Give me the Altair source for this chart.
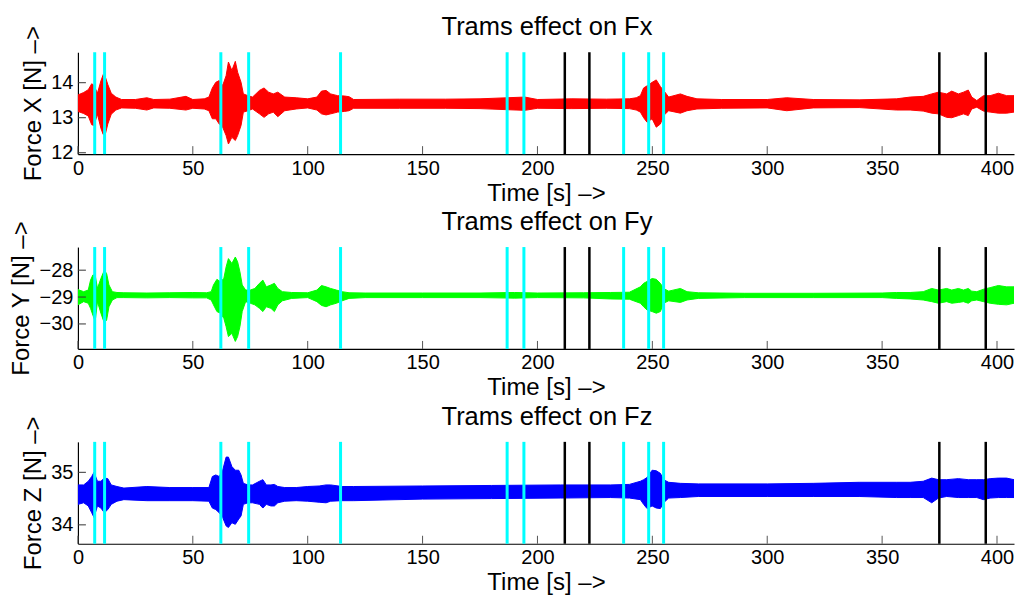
import altair as alt
import pandas as pd

# ---------------- data ----------------
# Fx envelope (time [s], upper, lower)
fx_t = [0.0, 2.5, 4.5, 6.0, 7.0, 8.5, 10.0, 11.0, 12.0, 13.0, 14.5, 16.5, 19.0, 25, 30, 33, 40, 47, 50, 55, 57,
        58.5, 60, 61.5, 63, 64.5, 65.5, 67, 68.5, 69.5, 71, 72, 74, 76, 79, 81, 83, 85, 87, 90, 95, 100, 104,
        106, 108, 110, 113, 116, 118, 120, 140, 160, 175, 194.5, 200, 215, 230, 240, 243, 244.8, 246.2, 247.7,
        249.9, 251.7, 253.5, 254.9, 257.1, 262.2, 265.1, 269.4, 280, 300, 308.5, 320, 340, 356.3, 362.2, 367.9,
        371.6, 374.5, 378.1, 380.3, 383.2, 385.4, 387.5, 389, 391.2, 394.1, 397, 400.6, 404.2, 407.4]
fx_hi = [13.65, 13.72, 13.80, 13.97, 13.92, 13.70, 14.05, 14.23, 14.15, 13.95, 13.70, 13.59, 13.52, 13.52, 13.57,
         13.52, 13.53, 13.61, 13.52, 13.54, 13.59, 13.85, 14.01, 14.06, 13.92, 14.20, 14.59, 14.35, 14.61, 14.30,
         14.01, 13.68, 13.63, 13.59, 13.78, 13.85, 13.73, 13.68, 13.73, 13.59, 13.57, 13.54, 13.59, 13.76, 13.78,
         13.68, 13.63, 13.62, 13.60, 13.52, 13.53, 13.53, 13.54, 13.59, 13.52, 13.54, 13.53, 13.54, 13.57, 13.63,
         13.85, 13.91, 14.01, 14.08, 13.89, 13.78, 13.59, 13.68, 13.61, 13.54, 13.52, 13.52, 13.57, 13.52, 13.51,
         13.54, 13.59, 13.61, 13.68, 13.73, 13.68, 13.76, 13.68, 13.73, 13.79, 13.59, 13.49, 13.63, 13.63, 13.70,
         13.63, 13.63]
fx_lo = [13.18, 13.12, 13.05, 12.80, 12.78, 13.10, 12.70, 12.52, 12.55, 12.82, 13.10, 13.22, 13.28, 13.27, 13.22,
         13.28, 13.27, 13.22, 13.27, 13.25, 13.20, 12.97, 12.97, 12.82, 12.73, 12.49, 12.25, 12.44, 12.35, 12.49,
         12.78, 13.16, 13.20, 13.25, 13.11, 13.01, 13.11, 13.16, 13.03, 13.20, 13.25, 13.28, 13.22, 13.11, 13.08,
         13.11, 13.16, 13.18, 13.20, 13.27, 13.27, 13.27, 13.26, 13.21, 13.27, 13.26, 13.27, 13.26, 13.22, 13.16,
         13.00, 12.87, 12.97, 12.73, 12.82, 13.06, 13.20, 13.13, 13.20, 13.25, 13.27, 13.28, 13.20, 13.28, 13.29,
         13.22, 13.22, 13.19, 13.13, 13.11, 13.01, 13.00, 13.06, 13.11, 13.06, 13.25, 13.30, 13.19, 13.16, 13.13,
         13.13, 13.16]

# Fy envelope
fy_t = [0, 2.5, 4.5, 5.5, 6.5, 7.5, 8.5, 10.0, 11.5, 12.5, 13.5, 15, 17, 20, 30, 40, 50, 56, 58, 59, 60.5, 62,
        63.5, 64.5, 65.5, 67, 68.5, 69.5, 70.5, 71.5, 73, 75, 77, 79, 80.5, 82, 84, 85.5, 87, 89, 93, 100, 104,
        106, 108, 110, 112.5, 115, 118, 125, 150, 175, 190, 200, 220, 231.7, 240, 244.8, 246.2, 247.7, 249.9,
        251.7, 253.5, 254.9, 257.1, 262.2, 265.1, 270, 290, 320, 350, 356.3, 362.2, 367.9, 371.6, 374.5, 378.1,
        380.3, 383.2, 385.4, 387.5, 389, 391.2, 394.1, 397, 400.6, 404.2, 407.4]
fy_hi = [-28.72, -28.80, -28.74, -28.37, -28.18, -28.18, -28.68, -28.31, -28.00, -28.13, -28.55, -28.80, -28.83,
         -28.84, -28.85, -28.84, -28.83, -28.84, -28.80, -28.55, -28.34, -28.43, -28.31, -27.88, -27.57, -27.75,
         -27.51, -27.69, -28.06, -28.55, -28.74, -28.74, -28.68, -28.49, -28.37, -28.62, -28.55, -28.49, -28.68,
         -28.80, -28.83, -28.84, -28.74, -28.57, -28.62, -28.68, -28.74, -28.80, -28.84, -28.85, -28.85, -28.85,
         -28.83, -28.85, -28.84, -28.83, -28.82, -28.62, -28.49, -28.42, -28.31, -28.34, -28.49, -28.68, -28.78,
         -28.68, -28.80, -28.84, -28.86, -28.86, -28.85, -28.83, -28.83, -28.80, -28.68, -28.74, -28.68, -28.74,
         -28.68, -28.74, -28.68, -28.78, -28.80, -28.71, -28.65, -28.57, -28.62, -28.62]
fy_lo = [-29.29, -29.17, -29.23, -29.42, -29.67, -29.91, -29.17, -29.60, -29.97, -29.85, -29.36, -29.11, -29.02,
         -29.02, -29.03, -29.02, -29.03, -29.03, -29.11, -29.29, -29.54, -29.60, -29.79, -30.10, -30.47, -30.35,
         -30.65, -30.47, -30.10, -29.54, -29.17, -29.23, -29.29, -29.42, -29.54, -29.36, -29.42, -29.54, -29.29,
         -29.14, -29.05, -29.02, -29.17, -29.31, -29.36, -29.29, -29.23, -29.14, -29.05, -29.02, -29.02, -29.02,
         -29.04, -29.02, -29.03, -29.07, -29.08, -29.23, -29.36, -29.48, -29.54, -29.60, -29.54, -29.23, -29.14,
         -29.20, -29.11, -29.05, -29.02, -29.02, -29.02, -29.05, -29.07, -29.11, -29.17, -29.23, -29.17, -29.23,
         -29.20, -29.17, -29.23, -29.14, -29.11, -29.17, -29.23, -29.27, -29.29, -29.23]

# Fz envelope
fz_t = [0, 2.5, 4.5, 6, 7, 8.5, 10, 11.5, 13, 14.5, 17, 20, 30, 40, 50, 57, 58.5, 60, 61.5, 63, 64.5, 65.5, 67,
        68.5, 70, 71, 72, 74, 76, 79, 80.5, 82, 84, 85.5, 87, 90, 95, 100, 105, 108, 110, 115, 120, 150, 180, 210,
        231.7, 240, 244.8, 246.2, 247.7, 249.9, 251.7, 253.5, 254.9, 257.1, 262.2, 270, 300, 320, 340, 356.3,
        362.2, 367.9, 371.6, 374.5, 378.1, 383.2, 387.5, 391.2, 394.1, 397, 400.6, 404.2, 407.4]
fz_hi = [34.76, 34.76, 34.83, 34.92, 35.00, 34.83, 34.83, 34.89, 34.88, 34.76, 34.73, 34.70, 34.73, 34.71, 34.71,
         34.71, 34.92, 34.95, 34.92, 35.04, 35.29, 35.29, 35.11, 35.04, 35.04, 34.95, 34.79, 34.76, 34.76, 34.83,
         34.86, 34.76, 34.76, 34.77, 34.73, 34.71, 34.71, 34.73, 34.74, 34.76, 34.76, 34.73, 34.73, 34.74, 34.75,
         34.76, 34.76, 34.77, 34.83, 34.86, 34.90, 35.04, 35.03, 34.98, 34.86, 34.81, 34.79, 34.78, 34.78, 34.79,
         34.81, 34.81, 34.81, 34.83, 34.89, 34.86, 34.86, 34.88, 34.86, 34.86, 34.86, 34.88, 34.89, 34.89, 34.86]
fz_lo = [34.39, 34.42, 34.36, 34.23, 34.14, 34.36, 34.32, 34.23, 34.29, 34.39, 34.45, 34.48, 34.46, 34.46, 34.46,
         34.45, 34.32, 34.29, 34.23, 34.14, 33.98, 33.95, 34.04, 34.01, 34.11, 34.17, 34.39, 34.42, 34.42, 34.39,
         34.32, 34.39, 34.36, 34.36, 34.42, 34.45, 34.46, 34.45, 34.43, 34.42, 34.45, 34.46, 34.46, 34.49, 34.50,
         34.51, 34.52, 34.51, 34.48, 34.39, 34.31, 34.36, 34.32, 34.31, 34.42, 34.51, 34.52, 34.54, 34.54, 34.54,
         34.54, 34.52, 34.52, 34.52, 34.42, 34.51, 34.54, 34.52, 34.52, 34.52, 34.48, 34.51, 34.52, 34.52, 34.52]

# event markers
cyan_times = [7.3, 11.6, 62.2, 74.3, 114.3, 186.8, 194.1, 237.5, 248.4, 254.9]
black_times = [211.9, 222.6, 374.9, 395.1]

x_ticks = [0, 50, 100, 150, 200, 250, 300, 350, 400]
x_max = 407.4

panels = [
    dict(t=fx_t, hi=fx_hi, lo=fx_lo, color="#FF0000", title="Trams effect on Fx",
         ylabel="Force X [N] \u2013>", domain=[11.96, 14.87], yticks=[12, 13, 14], ext=30),
    dict(t=fy_t, hi=fy_hi, lo=fy_lo, color="#00FF00", title="Trams effect on Fy",
         ylabel="Force Y [N] \u2013>", domain=[-30.93, -27.14], yticks=[-30, -29, -28], ext=42),
    dict(t=fz_t, hi=fz_hi, lo=fz_lo, color="#0000FF", title="Trams effect on Fz",
         ylabel="Force Z [N] \u2013>", domain=[33.64, 35.58], yticks=[34, 35], ext=30),
]

FONT = "Liberation Sans"
W, H = 937, 102
XTITLE = "Time [s] \u2013>"


def make_panel(p):
    df = pd.DataFrame({"t": p["t"], "hi": p["hi"], "lo": p["lo"]})
    xscale = alt.Scale(domain=[0, x_max], nice=False, zero=False)
    yscale = alt.Scale(domain=p["domain"], nice=False, zero=False)
    xaxis = alt.Axis(values=x_ticks, ticks=False, grid=False, labelFlush=False, labelOverlap=False,
                     labelFontSize=20, labelFont=FONT, labelPadding=4, labelColor="black",
                     titleFont=FONT, titleFontSize=24, titleFontWeight="normal", titleColor="black",
                     titlePadding=3, domainColor="black", domainWidth=1.2)
    yaxis = alt.Axis(values=p["yticks"], format="d", ticks=False, grid=False, labelFlush=False,
                     labelOverlap=False, labelFontSize=20, labelFont=FONT, labelPadding=5, labelColor="black",
                     titleFont=FONT, titleFontSize=24, titleFontWeight="normal", titleColor="black",
                     titlePadding=2, minExtent=p["ext"], maxExtent=p["ext"], domainColor="black",
                     domainWidth=1.2)

    area = alt.Chart(df).mark_area(color=p["color"], opacity=1, interpolate="linear", clip=True,
                                   stroke=p["color"], strokeWidth=1).encode(
        x=alt.X("t:Q", scale=xscale, axis=xaxis, title=XTITLE),
        y=alt.Y("hi:Q", scale=yscale, axis=yaxis, title=p["ylabel"]),
        y2="lo:Q",
    )
    cyan = alt.Chart(pd.DataFrame({"t": cyan_times})).mark_rule(color="#00FFFF", strokeWidth=3).encode(
        x=alt.X("t:Q", title=XTITLE))
    black = alt.Chart(pd.DataFrame({"t": black_times})).mark_rule(color="#000000", strokeWidth=2.5).encode(
        x=alt.X("t:Q", title=XTITLE))
    xt = alt.Chart(pd.DataFrame({"t": x_ticks})).mark_rule(color="#555555", strokeWidth=1).encode(
        x=alt.X("t:Q", title=XTITLE), y=alt.value(H), y2=alt.value(H - 8))
    yt = alt.Chart(pd.DataFrame({"hi": p["yticks"]})).mark_rule(color="#333333", strokeWidth=1).encode(
        y=alt.Y("hi:Q", title=p["ylabel"]), x=alt.value(0), x2=alt.value(8))
    ttl = alt.Chart(pd.DataFrame({"label": [p["title"]]})).mark_text(
        font=FONT, fontSize=25.5, color="black", align="center", baseline="alphabetic").encode(
        x=alt.value(W / 2 + 1), y=alt.value(-17), text="label:N")

    return alt.layer(area, cyan, black, xt, yt, ttl).properties(width=W, height=H)


chart = alt.vconcat(*[make_panel(p) for p in panels], spacing=93, bounds="flush").resolve_scale(
    y="independent").properties(
    padding={"left": 10, "top": 15, "right": 4, "bottom": 0},
    background="white",
).configure_view(stroke=None)

chart.save("out.html", embed_options={"renderer": "svg", "actions": False})
